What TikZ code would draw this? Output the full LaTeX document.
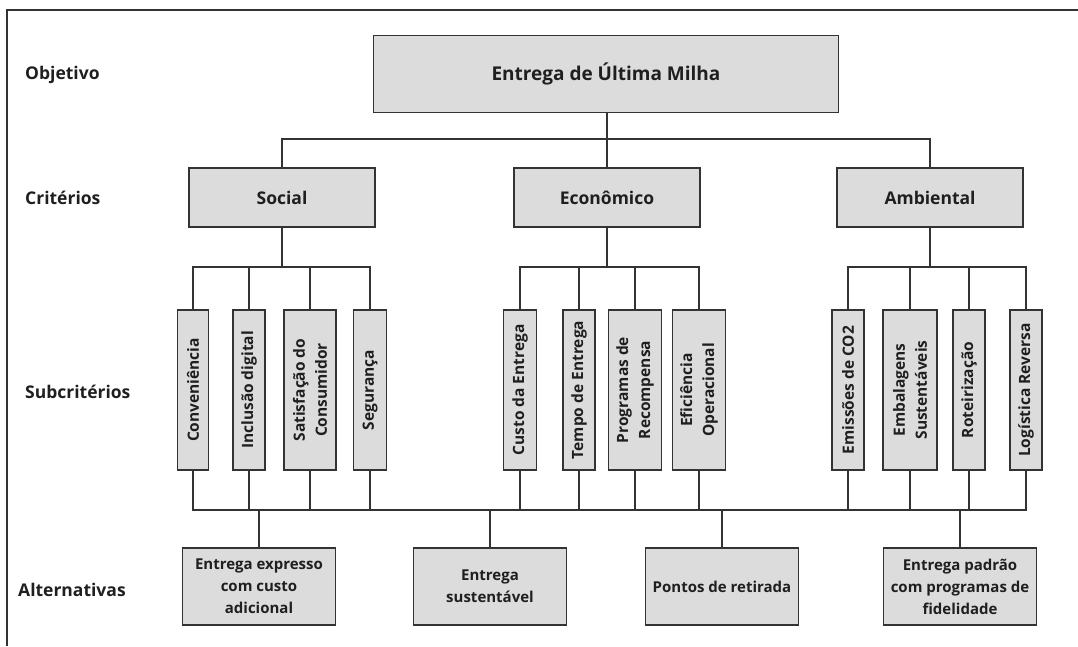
\documentclass[tikz,border=0pt]{standalone}
\usepackage{fontspec}
\setmainfont{Open Sans}
\definecolor{cinza}{HTML}{DCDCDC}
\definecolor{traco}{HTML}{333333}

\begin{document}
\begin{tikzpicture}[x=1pt,y=-1pt]
\tikzset{caixa/.style={draw=traco, line width=1.7pt, fill=cinza, align=center, inner sep=0pt, text=black!88, font=\fontsize{15}{22}\selectfont\bfseries},
vertical/.style={caixa, rotate=90, minimum width=160pt, font=\fontsize{15.5}{22}\selectfont\bfseries},
alternativa/.style={caixa, minimum width=153pt, minimum height=77pt},
criterio/.style={caixa, minimum width=186pt, minimum height=59pt, font=\fontsize{17.5}{21}\selectfont\bfseries},
nivel/.style={anchor=west, inner sep=0pt, text=black!88, font=\fontsize{17.5}{21}\selectfont\bfseries},
liga/.style={draw=traco, line width=1.7pt}}
\useasboundingbox (0,0) rectangle (1078,646);
\draw[liga] (7,646) -- (7,10) -- (1078,10);

\node[nivel] (N1) at (25,75) {Objetivo};
\node[nivel] (N2) at (25,198) {Critérios};
\node[nivel] (N3) at (25,392) {Subcritérios};
\node[nivel] (N4) at (18,590) {Alternativas};

\node[caixa, minimum width=465pt, minimum height=77pt, font=\fontsize{19}{23}\selectfont\bfseries] (obj) at (606,74) {Entrega de Última Milha};

\node[criterio] (soc) at (282,197.5) {Social};
\node[criterio] (eco) at (607,197.5) {Econômico};
\node[criterio] (amb) at (930,197.5) {Ambiental};

\node[vertical, minimum height=31pt] (conv) at (193,390) {Conveniência};
\node[vertical, minimum height=32pt] (incl) at (249,390) {Inclusão digital};
\node[vertical, minimum height=52pt] (sat) at (310,390) {Satisfação do\\Consumidor};
\node[vertical, minimum height=33pt] (seg) at (370,390) {Segurança};
\node[vertical, minimum height=33pt] (cust) at (520,390) {Custo da Entrega};
\node[vertical, minimum height=32pt] (temp) at (579,390) {Tempo de Entrega};
\node[vertical, minimum height=53pt] (prog) at (635,390) {Programas de\\Recompensa};
\node[vertical, minimum height=53pt] (efic) at (699,390) {Eficiência\\Operacional};
\node[vertical, minimum height=32pt] (emis) at (848,390) {Emissões de CO2};
\node[vertical, minimum height=54pt] (emba) at (910,390) {Embalagens\\Sustentáveis};
\node[vertical, minimum height=32pt] (rote) at (969,390) {Roteirização};
\node[vertical, minimum height=32pt] (logi) at (1026,390) {Logística Reversa};

\node[alternativa] (alt1) at (259,586.5) {Entrega expresso\\com custo\\adicional};
\node[alternativa] (alt2) at (490,586.5) {Entrega\\sustentável};
\node[alternativa] (alt3) at (722,586.5) {Pontos de retirada};
\node[alternativa] (alt4) at (960,586.5) {Entrega padrão\\com programas de\\fidelidade};

\coordinate (b1) at (0,139);
\coordinate (b2) at (0,267);
\coordinate (b3) at (0,510);

\draw[liga] (eco.north) -- (eco.north |- obj.south);
\draw[liga] (soc.north) -- (soc.north |- b1) -- (amb.north |- b1) -- (amb.north);

\draw[liga] (soc.south) -- (soc.south |- b2);
\draw[liga] (conv.east) -- (conv.east |- b2) -- (seg.east |- b2) -- (seg.east);
\draw[liga] (incl.east) -- (incl.east |- b2);
\draw[liga] (sat.east) -- (sat.east |- b2);
\draw[liga] (eco.south) -- (eco.south |- b2);
\draw[liga] (cust.east) -- (cust.east |- b2) -- (efic.east |- b2) -- (efic.east);
\draw[liga] (temp.east) -- (temp.east |- b2);
\draw[liga] (prog.east) -- (prog.east |- b2);
\draw[liga] (amb.south) -- (amb.south |- b2);
\draw[liga] (emis.east) -- (emis.east |- b2) -- (logi.east |- b2) -- (logi.east);
\draw[liga] (emba.east) -- (emba.east |- b2);
\draw[liga] (rote.east) -- (rote.east |- b2);

\draw[liga] (conv.west) -- (conv.west |- b3) -- (logi.west |- b3) -- (logi.west);
\draw[liga] (incl.west) -- (incl.west |- b3);
\draw[liga] (sat.west) -- (sat.west |- b3);
\draw[liga] (seg.west) -- (seg.west |- b3);
\draw[liga] (cust.west) -- (cust.west |- b3);
\draw[liga] (temp.west) -- (temp.west |- b3);
\draw[liga] (prog.west) -- (prog.west |- b3);
\draw[liga] (efic.west) -- (efic.west |- b3);
\draw[liga] (emis.west) -- (emis.west |- b3);
\draw[liga] (emba.west) -- (emba.west |- b3);
\draw[liga] (rote.west) -- (rote.west |- b3);
\draw[liga] (alt1.north) -- (alt1.north |- b3);
\draw[liga] (alt2.north) -- (alt2.north |- b3);
\draw[liga] (alt3.north) -- (alt3.north |- b3);
\draw[liga] (alt4.north) -- (alt4.north |- b3);
\end{tikzpicture}
\end{document}
